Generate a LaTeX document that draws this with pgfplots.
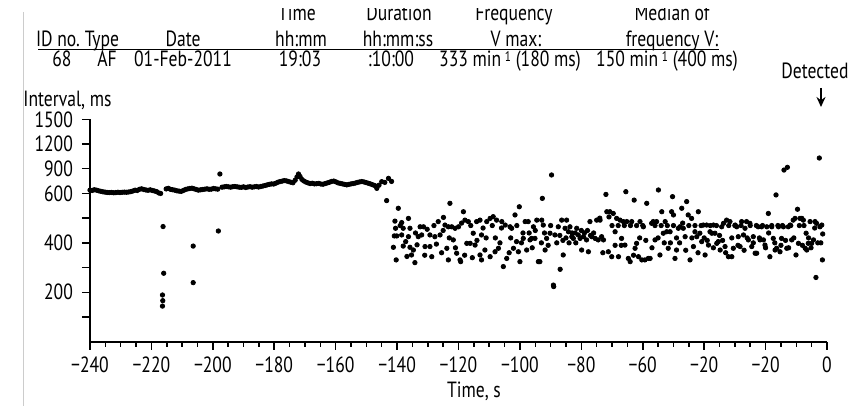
\documentclass[border=0pt]{standalone}
\usepackage{fontspec}
\setmainfont{PT Sans}[FakeStretch=0.8]
\usepackage{pgfplots}
\usepackage{pgfplotstable}
\pgfplotsset{compat=1.18}
\usetikzlibrary{arrows.meta}
\newcommand\f{\fontsize{11}{13}\selectfont}
\newcommand\mysup[1]{\raisebox{0.25em}{\fontsize{7}{8}\selectfont #1}}

\pgfplotstableread{
t v
-240.0 640
-239.3 636
-238.6 645
-237.9 640
-237.2 632
-236.5 626
-235.8 620
-235.1 616
-234.4 612
-233.7 610
-233.0 612
-232.3 608
-231.6 610
-230.9 614
-230.2 611
-229.5 614
-228.8 616
-228.1 614
-227.4 618
-226.7 622
-226.0 630
-225.3 640
-224.6 636
-223.9 650
-223.2 656
-222.5 648
-221.8 642
-221.1 638
-220.4 644
-219.7 636
-219.0 630
-218.3 622
-217.6 606
-217.0 600
-215.2 655
-214.5 662
-213.8 650
-213.1 645
-212.4 640
-211.7 632
-211.0 628
-210.3 625
-209.6 636
-208.9 648
-208.2 655
-207.5 660
-206.8 664
-206.1 656
-205.4 648
-204.7 640
-204.0 644
-203.3 648
-202.6 652
-201.9 656
-201.2 650
-200.5 652
-199.8 660
-199.1 656
-198.4 652
-197.0 676
-196.3 680
-195.6 684
-194.9 680
-194.2 676
-193.5 682
-192.8 684
-192.1 680
-191.4 676
-190.7 674
-190.0 680
-189.3 672
-188.6 678
-187.9 682
-187.2 676
-186.5 680
-185.8 684
-185.1 678
-184.4 684
-183.7 690
-183.0 696
-182.3 704
-181.6 710
-180.9 716
-180.2 714
-179.5 724
-178.8 736
-178.1 744
-177.4 750
-176.7 756
-176.0 752
-175.3 744
-174.6 736
-173.9 730
-173.2 760
-172.6 800
-172.1 836
-171.6 806
-171.0 770
-170.4 752
-169.7 738
-169.0 728
-168.3 720
-167.6 724
-166.9 716
-166.2 718
-165.5 722
-164.8 714
-164.1 712
-163.4 720
-162.7 728
-162.0 736
-161.3 746
-160.6 750
-159.9 740
-159.2 728
-158.5 722
-157.8 716
-157.1 710
-156.4 704
-155.7 710
-155.0 716
-154.3 720
-153.6 726
-152.9 734
-152.2 740
-151.5 744
-150.8 740
-150.1 732
-149.4 724
-148.7 716
-148.0 706
-147.3 696
-146.6 662
-145.9 700
-145.0 743
-144.0 734
-142.8 783
-141.8 746
}\sinus

\pgfplotstableread{
t v
-216.2 466
-216.0 277
-216.4 189
-216.3 166
-216.4 144
-206.4 387
-206.4 239
-198.2 448
-197.7 836
}\ectopic

\pgfplotstableread{
t v
-143.4 571
-139.6 540
-140.7 488
-140.5 459
-140.9 428
-141.2 382
-140.3 331
-138.5 482
-136.3 499
-138.0 459
-135.8 459
-140.1 428
-138.5 432
-136.3 425
-138.0 387
-135.8 382
-134.7 371
-134.2 320
-135.3 351
-132.5 465
-131.4 465
-133.1 425
-132.0 432
-130.9 385
-129.3 385
-128.7 344
-129.3 432
-127.7 425
-126.6 486
-124.9 503
-126.0 432
-124.4 472
-123.3 465
-122.8 560
-123.8 378
-123.3 331
-122.2 465
-121.1 459
-120.0 465
-121.7 412
-120.6 358
-119.5 331
-119.3 324
-118.4 526
-117.9 492
-116.8 486
-117.3 398
-116.2 398
-115.2 439
-114.6 391
-114.1 486
-113.0 492
-112.5 432
-113.0 351
-111.4 371
-112.5 331
-110.8 486
-109.7 499
-108.7 506
-109.7 344
-108.1 364
-107.0 378
-107.6 492
-105.9 486
-104.8 472
-105.4 304
-104.3 337
-103.2 465
-102.7 459
-102.1 378
-101.6 513
-101.1 405
-100.5 364
-100.0 324
-100.2 546
-98.9 418
-98.3 486
-97.8 371
-97.3 486
-96.7 412
-96.2 418
-95.6 465
-95.1 418
-94.5 492
-94.0 324
-93.5 324
-92.9 492
-92.7 580
-92.4 472
-91.8 371
-91.3 418
-90.2 439
-89.7 824
-89.1 229
-89.0 223
-88.6 432
-87.5 465
-86.9 293
-86.4 492
-85.9 351
-85.3 459
-84.8 492
-84.2 445
-83.7 465
-83.1 425
-82.6 418
-81.5 459
-81.0 432
-80.4 418
-79.9 371
-79.3 425
-78.3 412
-77.7 364
-77.2 486
-76.6 425
-75.5 418
-75.0 492
-73.9 492
-74.5 412
-73.4 425
-72.8 412
-72.0 596
-71.7 526
-70.7 526
-71.2 364
-70.1 344
-69.6 519
-69.0 445
-68.5 499
-67.9 344
-67.4 492
-66.9 418
-66.3 486
-65.8 391
-65.5 621
-65.2 486
-64.7 337
-64.1 324
-63.6 486
-62.8 573
-62.5 378
-62.0 398
-61.4 344
-60.9 486
-60.3 331
-59.8 465
-59.3 331
-58.7 560
-58.2 337
-57.6 337
-57.1 479
-56.6 486
-56.0 412
-55.5 486
-54.9 642
-54.4 351
-53.8 526
-53.3 439
-52.7 486
-52.2 445
-51.7 378
-51.1 445
-50.6 526
-50.3 587
-50.0 513
-49.5 337
-49.0 371
-48.4 459
-47.9 465
-47.3 540
-46.8 459
-46.2 425
-45.7 567
-45.2 513
-44.6 331
-44.1 499
-43.5 385
-43.0 445
-42.4 425
-41.9 526
-41.4 439
-40.8 405
-40.3 472
-39.7 351
-39.2 472
-38.6 391
-38.1 445
-37.5 439
-37.0 472
-36.5 439
-35.9 398
-35.4 405
-34.8 371
-34.3 465
-33.7 479
-33.2 385
-32.7 492
-32.1 344
-31.6 486
-31.0 344
-30.5 378
-29.9 472
-29.4 465
-28.9 425
-28.3 385
-27.8 486
-27.2 432
-26.7 459
-26.2 486
-25.6 412
-25.1 479
-24.5 385
-24.0 425
-23.4 358
-22.9 358
-22.4 465
-21.8 412
-21.3 465
-20.7 412
-20.2 391
-19.6 465
-19.1 519
-18.6 344
-18.0 465
-17.5 418
-16.9 371
-16.6 594
-16.4 378
-15.8 465
-15.3 364
-14.8 418
-14.2 465
-14.0 884
-12.9 917
-13.1 378
-12.6 465
-12.0 472
-11.5 412
-11.0 492
-10.4 499
-10.1 351
-9.6 536
-9.3 398
-8.8 499
-8.2 499
-7.7 492
-7.1 378
-6.8 439
-6.6 371
-6.1 398
-5.5 486
-5.0 398
-4.4 412
-3.9 486
-3.4 479
-3.6 260
-2.5 1030
-2.3 465
-1.7 472
-1.4 436
-1.5 331
-139.0 470
-137.2 405
-136.8 345
-134.0 440
-133.5 392
-131.0 350
-130.2 455
-128.0 470
-127.2 395
-125.5 360
-125.0 450
-123.0 420
-121.0 380
-119.0 480
-118.0 350
-116.0 470
-115.5 340
-114.0 410
-112.0 460
-111.0 420
-109.0 470
-108.0 420
-106.5 400
-106.0 460
-103.5 360
-103.0 420
-101.0 470
-99.5 400
-99.0 440
-97.0 440
-96.0 380
-95.0 450
-93.0 400
-92.0 440
-90.8 390
-90.0 470
-88.0 400
-87.0 430
-86.0 410
-85.0 420
-84.0 400
-83.0 440
-82.0 440
-81.8 400
-80.0 450
-79.0 440
-78.0 450
-77.0 430
-76.0 440
-74.0 500
-73.0 360
-71.0 505
-70.0 470
-69.0 390
-68.0 470
-67.0 390
-66.0 470
-64.0 470
-63.0 350
-62.0 470
-61.0 420
-60.0 470
-59.0 410
-57.0 380
-56.0 470
-55.0 420
-54.0 470
-53.0 400
-52.0 470
-51.0 400
-50.0 470
-49.0 420
-48.0 400
-47.0 480
-46.0 370
-45.0 470
-44.0 420
-43.0 470
-42.0 360
-41.0 470
-40.0 420
-39.0 410
-38.0 470
-37.0 380
-36.0 470
-35.0 430
-34.0 410
-33.0 360
-32.0 470
-31.0 420
-30.0 470
-29.0 390
-28.0 470
-27.0 370
-26.0 420
-25.0 470
-24.0 400
-23.0 470
-22.0 420
-21.0 470
-20.0 380
-19.0 440
-18.0 470
-17.0 400
-16.0 470
-15.0 390
-14.5 470
-13.5 410
-12.5 380
-11.8 470
-10.8 420
-9.0 470
-8.0 390
-7.5 470
-6.0 420
-5.2 380
-4.0 460
-3.0 400
-2.0 400
}\af

\begin{document}
\begin{tikzpicture}[font=\f]
\begin{axis}[
  at={(45pt,-170.85pt)}, anchor=south west,
  scale only axis, width=368.5pt, height=111.2pt,
  xmin=-240, xmax=0, ymin=0, ymax=900,
  axis lines=left,
  axis line style={-, line width=1pt},
  y filter/.expression={y<=600 ? y : 600+(y-600)/3},
  xtick={-240,-220,...,0},
  xticklabels={−240,−220,−200,−180,−160,−140,−120,−100,−80,−60,−20,−20,0},
  minor x tick num=3,
  ytick={100,200,300,400,500,600,700,800,900},
  yticklabels={,200,,400,,600,900,1200,1500},
  tick align=outside,
  major tick length=4pt, minor tick length=2.5pt,
  tick style={line width=0.75pt, black},
  ticklabel style={font=\f},
  yticklabel style={xshift=-1pt},
  clip=false,
]
\addplot[only marks, mark=*, mark size=1.1pt, black] table[x=t, y=v] {\sinus};
\addplot[only marks, mark=*, mark size=1.1pt, black] table[x=t, y=v] {\ectopic};
\addplot[only marks, mark=*, mark size=1.1pt, black] table[x=t, y=v] {\af};
\end{axis}
\begin{scope}[x=0.5pt, y=-0.5pt]
  \tikzset{every node/.style={inner sep=0pt, anchor=base}}
  % header row 1
  \node at (297,21) {Time};
  \node at (399,21) {Duration};
  \node at (514,21) {Frequency};
  \node at (672,21) {Median of};
  \fill[white] (0,-20) rectangle (864,8.5);
  % header row 2
  \node at (58,47) {ID no.};
  \node at (102,47) {Type};
  \node at (183,47) {Date};
  \node at (301,47) {hh:mm};
  \node at (398,47) {hh:mm:ss};
  \node at (516,47) {V max:};
  \node at (672,47) {frequency V:};
  \draw[line width=0.75pt] (38,49.5) -- (719,49.5);
  % data row
  \node at (62,67) {68};
  \node at (107,67) {AF};
  \node at (183,67) {01-Feb-2011};
  \node at (300,67) {19:03};
  \node at (391,67) {:10:00};
  \node at (510,67) {333 min\,\mysup{1} (180 ms)};
  \node at (667,67) {150 min\,\mysup{1} (400 ms)};
  % labels
  \node[anchor=base west] at (23,107) {Interval, ms};
  \node at (474,398) {Time, s};
  \node at (815,79) {Detected};
  \draw[-{Stealth[length=5pt,width=4.5pt]}, line width=0.9pt] (821,88) -- (821,107);
  \draw[gray!40, line width=0.5pt] (23,12) -- (23,406);
  \pgfresetboundingbox
  \path[use as bounding box] (0,0) rectangle (864,406);
\end{scope}
\end{tikzpicture}
\end{document}
